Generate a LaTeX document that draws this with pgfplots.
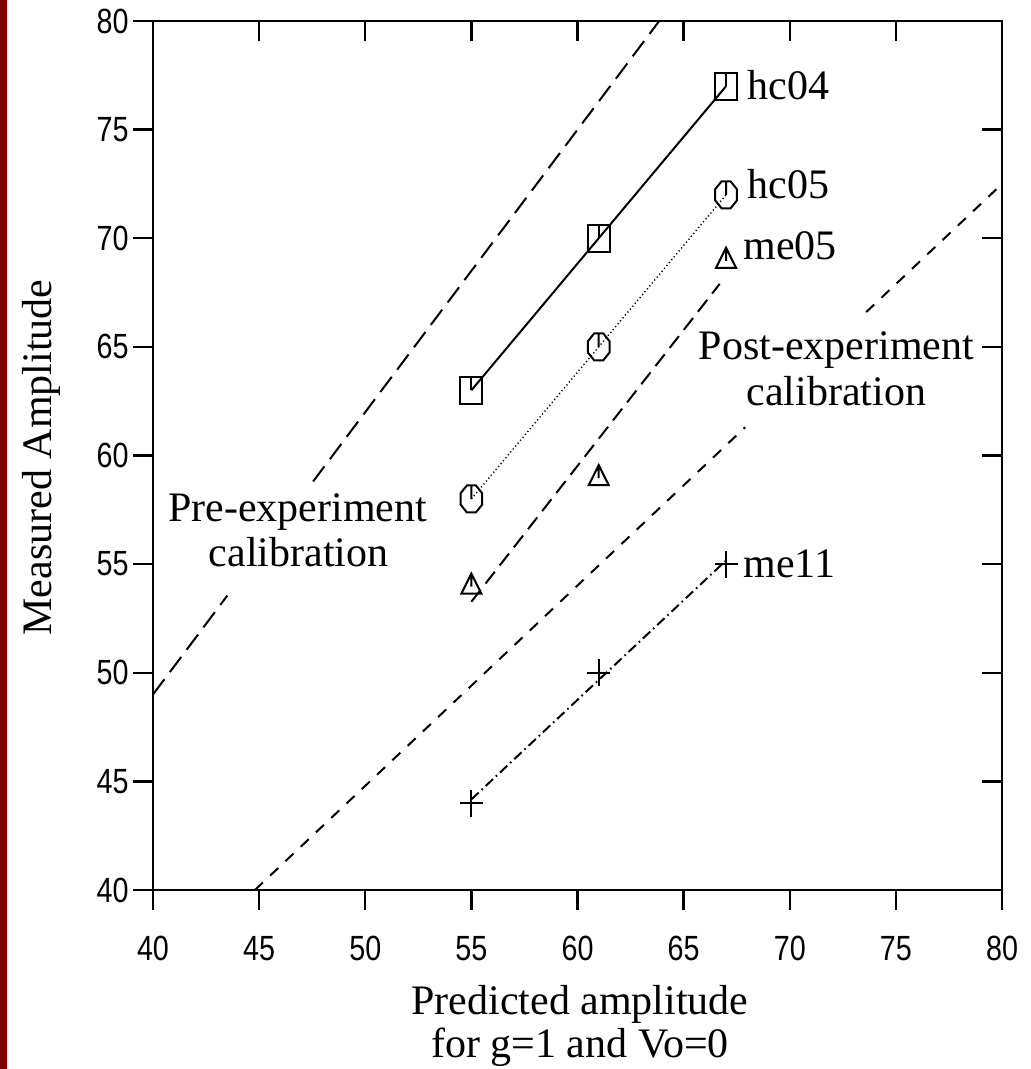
\documentclass[border=0pt]{standalone}
\usepackage{pgfplots}
\pgfplotsset{compat=1.18}
\usepackage{fontspec}
\setmainfont{Liberation Serif}
\newfontfamily\ticksans[FakeStretch=0.82]{Liberation Sans}
\definecolor{edgered}{RGB}{122,4,4}
\newcommand\lbl{\fontsize{21}{23}\selectfont}

% markers with a short bar from the centre to the top
\pgfdeclareplotmark{sqbar}{%
  \pgfpathrectanglecorners{\pgfqpoint{-5.5pt}{-6.75pt}}{\pgfqpoint{5.5pt}{6.75pt}}%
  \pgfpathmoveto{\pgfqpoint{0pt}{0pt}}\pgfpathlineto{\pgfqpoint{0pt}{6.75pt}}%
  \pgfusepathqstroke}
\pgfdeclareplotmark{octbar}{%
  \pgfpathmoveto{\pgfqpoint{5.42pt}{2.8pt}}%
  \pgfpathlineto{\pgfqpoint{2.25pt}{6.75pt}}%
  \pgfpathlineto{\pgfqpoint{-2.25pt}{6.75pt}}%
  \pgfpathlineto{\pgfqpoint{-5.42pt}{2.8pt}}%
  \pgfpathlineto{\pgfqpoint{-5.42pt}{-2.8pt}}%
  \pgfpathlineto{\pgfqpoint{-2.25pt}{-6.75pt}}%
  \pgfpathlineto{\pgfqpoint{2.25pt}{-6.75pt}}%
  \pgfpathlineto{\pgfqpoint{5.42pt}{-2.8pt}}%
  \pgfpathclose
  \pgfpathmoveto{\pgfqpoint{0pt}{0pt}}\pgfpathlineto{\pgfqpoint{0pt}{6.75pt}}%
  \pgfusepathqstroke}
\pgfdeclareplotmark{tribar}{%
  \pgfpathmoveto{\pgfqpoint{0pt}{5pt}}%
  \pgfpathlineto{\pgfqpoint{-5pt}{-5pt}}%
  \pgfpathlineto{\pgfqpoint{5pt}{-5pt}}%
  \pgfpathclose
  \pgfpathmoveto{\pgfqpoint{0pt}{5pt}}\pgfpathlineto{\pgfqpoint{0pt}{-1.5pt}}%
  \pgfusepathqstroke}
\pgfdeclareplotmark{plusbar}{%
  \pgfpathmoveto{\pgfqpoint{-5.75pt}{0pt}}\pgfpathlineto{\pgfqpoint{5.75pt}{0pt}}%
  \pgfpathmoveto{\pgfqpoint{0pt}{-6.75pt}}\pgfpathlineto{\pgfqpoint{0pt}{6.75pt}}%
  \pgfusepathqstroke}

\pgfplotsset{
  frame/.style={
    at={(0,0)}, anchor=south west,
    scale only axis, width=424.5pt, height=434.5pt,
    xmin=40, xmax=80, ymin=40, ymax=80,
    xtick={40,45,...,80}, ytick={40,45,...,80},
    major tick length=10pt,
    axis line style={line width=1.15pt},
    tick style={black, line width=1.15pt},
  }
}

\begin{document}
\begin{tikzpicture}
\useasboundingbox (-76.5pt,-89.5pt) rectangle (438.5pt,445pt);
\fill[edgered] (-76.5pt,-89.5pt) rectangle (-72.75pt,445pt);

% inward ticks on the top and right edges
\begin{axis}[frame, tick align=inside, xtick pos=right, ytick pos=right,
  xticklabels={}, yticklabels={}]
\end{axis}

\begin{axis}[frame, tick align=outside, xtick pos=left, ytick pos=left,
  /pgf/number format/assume math mode=true,
  ticklabel style={font=\ticksans\fontsize{17.5}{18}\selectfont},
  xticklabel style={anchor=north, inner sep=0pt, yshift=-13pt},
  yticklabel style={anchor=east, inner sep=0pt, xshift=-2pt},
]
% calibration lines, broken where their labels sit
\addplot[black, line width=1pt, dash pattern=on 9.5pt off 4.5pt] coordinates {(40,49) (43.5,53.55)};
\addplot[black, line width=1pt, dash pattern=on 9.5pt off 4.5pt] coordinates {(47.54,58.8) (63.85,80)};
\addplot[black, line width=1pt, dash pattern=on 5.5pt off 5pt] coordinates {(44.8,40) (67.9,61.3)};
\addplot[black, line width=1pt, dash pattern=on 5.5pt off 5pt] coordinates {(73.6,66.6) (80,72.5)};

% hc04
\addplot[black, line width=1pt, mark=sqbar, mark options={solid, line width=1pt}]
  coordinates {(55,63) (61,70) (67,77)};
% hc05
\addplot[black, line width=0.7pt, dash pattern=on 0.6pt off 1.3pt, mark=octbar, mark options={solid, line width=1pt}]
  coordinates {(55,58) (61,65) (67,72)};
% me05: points and fitted line
\addplot[black, only marks, mark=tribar, mark options={solid, line width=1pt}]
  coordinates {(55,54.1) (61,59.1) (67,69.1)};
\addplot[black, line width=1pt, dash pattern=on 7.5pt off 4pt] coordinates {(55,53.27) (66.7,67.9)};
% me11: points and fitted line
\addplot[black, only marks, mark=plusbar, mark options={solid, line width=1pt}]
  coordinates {(55,44) (61,50) (67,55)};
\addplot[black, line width=1pt, dash pattern=on 5pt off 2pt on 0.8pt off 2pt] coordinates {(55,44.17) (67,55.17)};

\node[anchor=base west, inner sep=0pt, font=\lbl] at (axis cs:68,76.4) {hc04};
\node[anchor=base west, inner sep=0pt, font=\lbl] at (axis cs:68,71.85) {hc05};
\node[anchor=base west, inner sep=0pt, font=\lbl] at (axis cs:67.8,69.0) {me05};
\node[anchor=base west, inner sep=0pt, font=\lbl] at (axis cs:67.8,54.4) {me11};
\node[anchor=base, inner sep=0pt, font=\lbl] at (axis cs:72.2,64.44) {Post-experiment};
\node[anchor=base, inner sep=0pt, font=\lbl] at (axis cs:72.2,62.32) {calibration};
\node[anchor=base, inner sep=0pt, font=\lbl] at (axis cs:46.81,56.94) {Pre-experiment};
\node[anchor=base, inner sep=0pt, font=\lbl] at (axis cs:46.86,54.87) {calibration};
\end{axis}

\node[anchor=base, inner sep=0pt, font=\lbl] at (213.5pt,-62.5pt) {Predicted amplitude};
\node[anchor=base, inner sep=0pt, font=\lbl] at (213.5pt,-83.5pt) {for g=1 and Vo=0};
\node[anchor=base, rotate=90, inner sep=0pt, font=\lbl] at (-50.5pt,216.25pt) {Measured Amplitude};
\end{tikzpicture}
\end{document}
